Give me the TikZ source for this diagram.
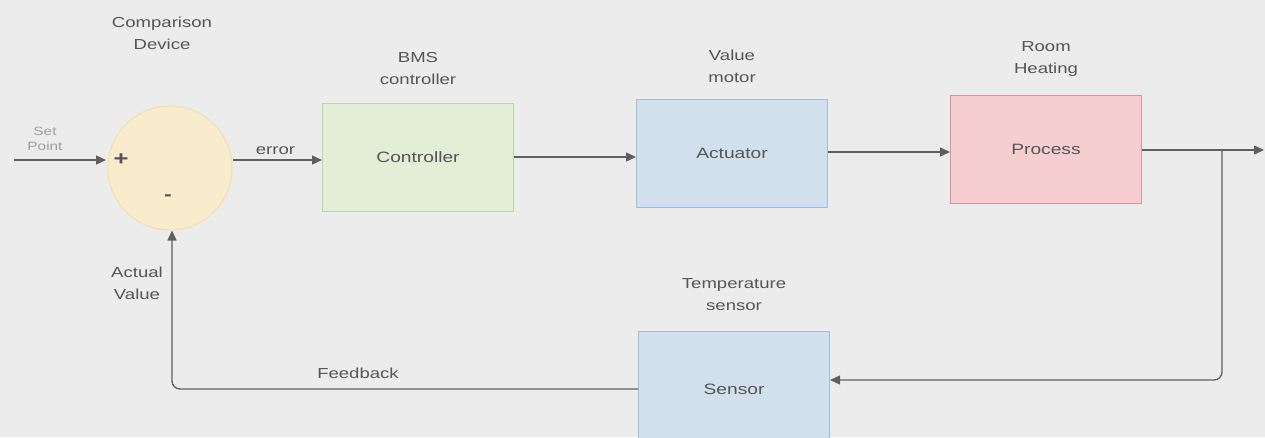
\documentclass[tikz,border=0pt]{standalone}
\usepackage{fontspec}
\setmainfont{Liberation Sans}[FakeStretch=1.28]
\usetikzlibrary{arrows.meta}
\definecolor{bg}{RGB}{236,236,236}
\definecolor{txt}{RGB}{85,85,85}
\definecolor{ln}{RGB}{95,95,95}
\definecolor{yfill}{RGB}{248,236,204}
\definecolor{ydraw}{RGB}{240,224,170}
\definecolor{gfill}{RGB}{226,238,214}
\definecolor{gdraw}{RGB}{184,214,166}
\definecolor{bfill}{RGB}{210,224,238}
\definecolor{bdraw}{RGB}{160,188,214}
\definecolor{rfill}{RGB}{246,206,210}
\definecolor{rdraw}{RGB}{210,150,158}
\tikzset{
  blk/.style={draw, line width=1pt, minimum width=191pt, minimum height=108pt, text=txt, font=\fontsize{15}{18}\selectfont},
  lbl/.style={text=txt, align=center, font=\fontsize{14.5}{22}\selectfont},
  small/.style={text=gray!75, align=center, font=\fontsize{12}{15}\selectfont},
  conn/.style={draw=ln, line width=1.3pt, -{Triangle[length=10pt,width=9pt]}},
}
\begin{document}
\begin{tikzpicture}[x=1pt,y=-1pt]
\fill[bg] (0,0) rectangle (1265,437);
\useasboundingbox (0,0) rectangle (1265,437);
% comparison device
\node[circle, draw=ydraw, fill=yfill, line width=1pt, minimum size=124pt, inner sep=0pt] (cmp) at (170,168) {};
\node[lbl] (cmplbl) at (162,33) {Comparison\\Device};
\node[text=txt, font=\fontsize{20}{20}\selectfont\bfseries] (plus) at (121,160) {+};
\node[text=txt, font=\fontsize{18}{18}\selectfont\bfseries] (minus) at (168,198) {-};
\node[small] (sp) at (45,139) {Set\\Point};
\coordinate (in) at (14,160);
\coordinate (inend) at (106,160);
\draw[conn] (in) -- (inend);
% blocks
\node[blk, draw=gdraw, fill=gfill] (ctrl) at (418,157) {Controller};
\node[lbl] (ctrllbl) at (418,69) {BMS\\controller};
\node[blk, draw=bdraw, fill=bfill] (act) at (732,153) {Actuator};
\node[lbl] (actlbl) at (732,66) {Value\\motor};
\node[blk, draw=rdraw, fill=rfill] (proc) at (1046,149) {Process};
\node[lbl] (proclbl) at (1046,59) {Room\\Heating};
\node[blk, draw=bdraw, fill=bfill, minimum height=115pt] (sens) at (734,389) {Sensor};
\node[lbl] (senslbl) at (734,295) {Temperature\\sensor};
% forward connectors
\draw[conn] (cmp.east |- 0,160) -- node[lbl, above=1pt, pos=0.48] (err) {error} (ctrl.west |- 0,160);
\draw[conn] (ctrl.east |- 0,157) -- (act.west |- 0,157);
\draw[conn] (act.east |- 0,152) -- (proc.west |- 0,152);
\coordinate (out) at (1264,150);
\coordinate (branch) at (1222,150);
\draw[conn] (proc.east |- 0,150) -- (out);
% feedback
\draw[conn, rounded corners=8pt] (branch) -- (1222,380) -- (sens.east |- 0,380);
\draw[conn, rounded corners=8pt] (sens.west |- 0,389) -- (172,389) -- (cmp.south -| 172,0);
\node[lbl] (fb) at (358,373) {Feedback};
\node[lbl] (av) at (137,283) {Actual\\Value};
\end{tikzpicture}
\end{document}
